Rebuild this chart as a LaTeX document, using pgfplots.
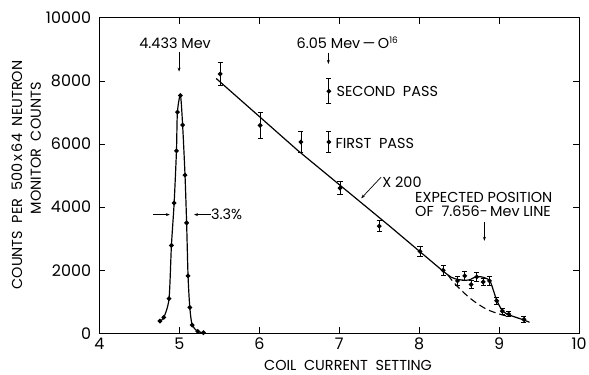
\documentclass[border=0pt]{standalone}
\usepackage{fontspec}
\setmainfont{Poppins}
\usepackage{pgfplots}
\pgfplotsset{compat=1.18}
\usetikzlibrary{arrows.meta}
\begin{document}
\begin{tikzpicture}
\begin{axis}[
  scale only axis, width=482pt, height=317pt,
  xmin=4, xmax=10, ymin=0, ymax=10000,
  xtick={4,5,...,10}, ytick={0,2000,...,10000},
  tick align=inside, major tick length=6pt,
  axis line style={line width=0.9pt}, tick style={line width=0.9pt, black},
  scaled y ticks=false,
  /pgf/number format/1000 sep={},
  /pgf/number format/assume math mode=true,
  tick label style={font=\fontsize{16}{16}\selectfont},
  yticklabel style={xshift=-5pt},
  xticklabel style={yshift=-1pt},
  clip=false,
  every axis plot/.append style={line width=1.2pt, black},
  error bars/error bar style={line width=0.8pt},
  error bars/error mark options={rotate=90, mark size=2.6pt, line width=0.8pt},
]
% left peak
\addplot[smooth, tension=0.45, mark=*, mark size=1.7pt] coordinates {
(4.756,388) (4.805,505) (4.87,1100) (4.90,2786) (4.934,4132) (4.963,5783)
(4.975,7013) (5.013,7540) (5.04,6603) (5.07,5016) (5.09,3502) (5.108,1820)
(5.13,820) (5.16,262) (5.23,60) (5.30,20)};
% right fitted line
\addplot[sharp plot] coordinates {(5.46,8080) (6.48,5800) (7.62,3420) (8.28,2010)};
\addplot[smooth, tension=0.5] coordinates {(8.28,2010) (8.4,1780) (8.5,1700) (8.62,1690) (8.72,1800) (8.82,1760) (8.89,1630) (8.97,1050) (9.05,690) (9.15,560) (9.3,430) (9.38,350)};
\addplot[smooth, dash pattern=on 7pt off 4pt, line width=1.1pt] coordinates {(8.36,1850) (8.45,1560) (8.64,1104) (8.84,767) (9.03,590) (9.12,540)};
% data with error bars
\addplot[only marks, mark=*, mark size=1.7pt,
  error bars/.cd, y dir=both, y explicit] table[x=x, y=y, y error=e] {
x y e
5.51 8224 370
6.01 6593 400
6.52 6066 330
7.01 4606 210
7.50 3397 175
8.01 2596 160
8.30 1997 150
8.48 1662 130
8.57 1820 130
8.65 1546 130
8.72 1788 130
8.80 1630 120
8.88 1662 130
8.97 1031 100
9.04 704 100
9.12 609 80
9.31 441 80
6.87 7675 400
6.87 6066 320
};
% annotations
\node[font=\fontsize{14.5}{15}\selectfont] at (axis cs:4.946,9211) {4.433 Mev};
\draw[-{Stealth[length=4pt,width=3pt]}, line width=0.7pt] (axis cs:4.996,8927) -- (axis cs:4.996,8297);
\node[font=\fontsize{14.5}{15}\selectfont] at (axis cs:7.10,9211) {6.05 Mev\,---\,O\raisebox{0.6ex}{\fontsize{9}{9}\selectfont 16}};
\draw[-{Stealth[length=4pt,width=3pt]}, line width=0.7pt] (axis cs:6.864,8900) -- (axis cs:6.864,8540);
\node[anchor=west, font=\fontsize{14.5}{15}\selectfont, inner sep=0pt] at (axis cs:6.964,7675) {SECOND\ \ PASS};
\node[anchor=west, font=\fontsize{14.5}{15}\selectfont, inner sep=0pt] at (axis cs:6.951,6025) {FIRST\ \ PASS};
\node[anchor=west, font=\fontsize{14.5}{15}\selectfont, inner sep=0pt] at (axis cs:7.537,4804) {X 200};
\draw[-{Stealth[length=4pt,width=3pt]}, line width=0.7pt] (axis cs:7.524,4953) -- (axis cs:7.275,4281);
\node[anchor=west, font=\fontsize{14.5}{15}\selectfont, inner sep=0pt] at (axis cs:7.948,4322) {EXPECTED\ POSITION};
\node[anchor=west, font=\fontsize{14.5}{15}\selectfont, inner sep=0pt] at (axis cs:7.948,3880) {OF\ \ 7.656-\,Mev\ LINE};
\draw[-{Stealth[length=4pt,width=3pt]}, line width=0.7pt] (axis cs:8.816,3533) -- (axis cs:8.816,2934);
\draw[-{Stealth[length=4pt,width=3pt]}, line width=0.7pt] (axis cs:4.672,3763) -- (axis cs:4.880,3763);
\draw[-{Stealth[length=4pt,width=3pt]}, line width=0.7pt] (axis cs:5.395,3763) -- (axis cs:5.183,3763);
\node[anchor=west, font=\fontsize{14.5}{15}\selectfont, inner sep=0pt] at (axis cs:5.395,3763) {3.3\%};
% labels
\node[rotate=90, font=\fontsize{14.5}{15}\selectfont, inner sep=0pt] at ([xshift=-83pt]axis cs:4,5016) {COUNTS\ \ PER\ \ 500\,x\,64\ \ NEUTRON};
\node[rotate=90, font=\fontsize{14.5}{15}\selectfont, inner sep=0pt] at ([xshift=-64pt]axis cs:4,5868) {MONITOR\ \ COUNTS};
\node[font=\fontsize{14.5}{15}\selectfont, anchor=base, inner sep=0pt] at ([yshift=-37pt]axis cs:7.11,0) {COIL\ \ CURRENT\ \ SETTING};
\end{axis}
\pgfresetboundingbox
\path[use as bounding box] (current axis.south west) ++(-100pt,-41pt) rectangle ++(592pt,376pt);
\end{tikzpicture}
\end{document}
